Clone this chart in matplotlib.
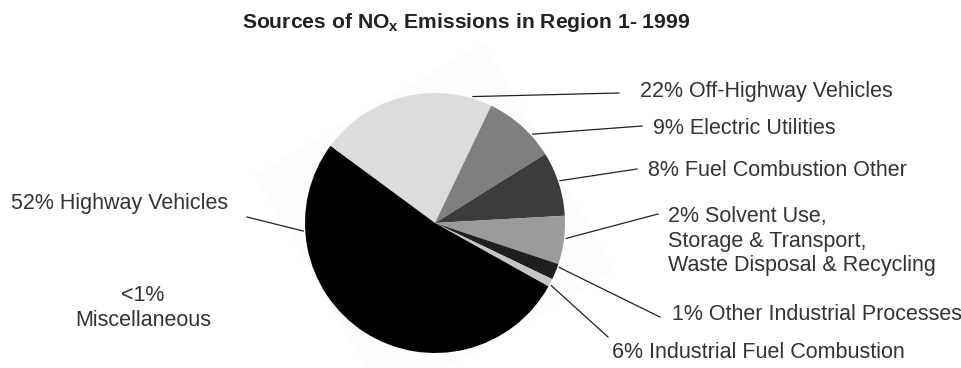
import numpy as np
import matplotlib.pyplot as plt
from matplotlib.patches import Polygon

plt.rcParams['font.family'] = ['Liberation Sans', 'DejaVu Sans']
plt.rcParams['mathtext.fontset'] = 'custom'
plt.rcParams['mathtext.bf'] = 'Liberation Sans:bold'
plt.rcParams['mathtext.rm'] = 'Liberation Sans'

# NOx sources, in drawing order (clockwise from the top-left edge)
sources = ['Off-Highway Vehicles', 'Electric Utilities', 'Fuel Combustion Other',
           'Industrial Fuel Combustion', 'Solvent Use', 'Other Industrial Processes',
           'Highway Vehicles']
shares = [22, 9, 8, 6, 2, 1, 52]
greys = ['#dcdcdc', '#7f7f7f', '#3c3c3c', '#9b9b9b', '#1f1f1f', '#c6c6c6', '#000000']

callouts = ['22% Off-Highway Vehicles', '9% Electric Utilities', '8% Fuel Combustion Other',
            '2% Solvent Use,\nStorage & Transport,\nWaste Disposal & Recycling',
            '1% Other Industrial Processes', '6% Industrial Fuel Combustion',
            '52% Highway Vehicles']
# rim angle (deg) where each leader line touches the pie
callout_angles = [73.3, 42.3, 18.7, -6.7, -19.7, -28.3, 183.5]

W, H = 962, 368
fig = plt.figure(figsize=(W / 100, H / 100), dpi=100)
ax = fig.add_axes([0, 0, 1, 1])

cx, cy, r = 435, 145, 130

# faint square backdrop, turned 30 degrees
side = 264
rot = np.deg2rad(30)
corners = np.array([[-1, -1], [1, -1], [1, 1], [-1, 1]]) * side / 2
rmat = np.array([[np.cos(rot), -np.sin(rot)], [np.sin(rot), np.cos(rot)]])
sq = corners @ rmat.T + [cx, cy]
ax.add_patch(Polygon(sq, closed=True, facecolor='#fcfcfc', edgecolor='none', zorder=0))

ax.pie(shares, colors=greys, startangle=143.6, counterclock=False,
       center=(cx, cy), radius=r, wedgeprops=dict(linewidth=0), frame=True)
ax.set_xlim(0, W)
ax.set_ylim(0, H)
ax.set_aspect('equal')
ax.axis('off')

txt_color = '#333333'
fs = 15.5

# label text anchors and leader line ends
label_xy = [(640, 277, 'left'), (653, 240, 'left'), (648, 198, 'left'),
            (668, 127, 'left'), (672, 53, 'left'), (612, 16, 'left'),
            (228, 165, 'right')]
line_end = [(619, 275), (642, 242), (637, 199), (658, 154), (660, 51), (608, 31), (247, 151)]

for text, ang, (tx, ty, ha), (ex, ey) in zip(callouts, callout_angles, label_xy, line_end):
    a = np.deg2rad(ang)
    px, py = cx + (r + 2) * np.cos(a), cy + (r + 2) * np.sin(a)
    ax.plot([px, ex], [py, ey], color='#222222', lw=0.9, zorder=3)
    ax.text(tx, ty, text, ha=ha, va='center', fontsize=fs, color=txt_color,
            linespacing=1.2)

ax.text(143, 60, '<1%\nMiscellaneous', ha='center', va='center', fontsize=fs,
        color=txt_color, linespacing=1.2)

ax.text(466, 346, r'Sources of NO$_{\mathbf{x}}$ Emissions in Region 1- 1999',
        ha='center', va='center', fontsize=15.2, fontweight='bold', color='#222222')

fig.savefig('out.png', dpi=100, facecolor='white')
